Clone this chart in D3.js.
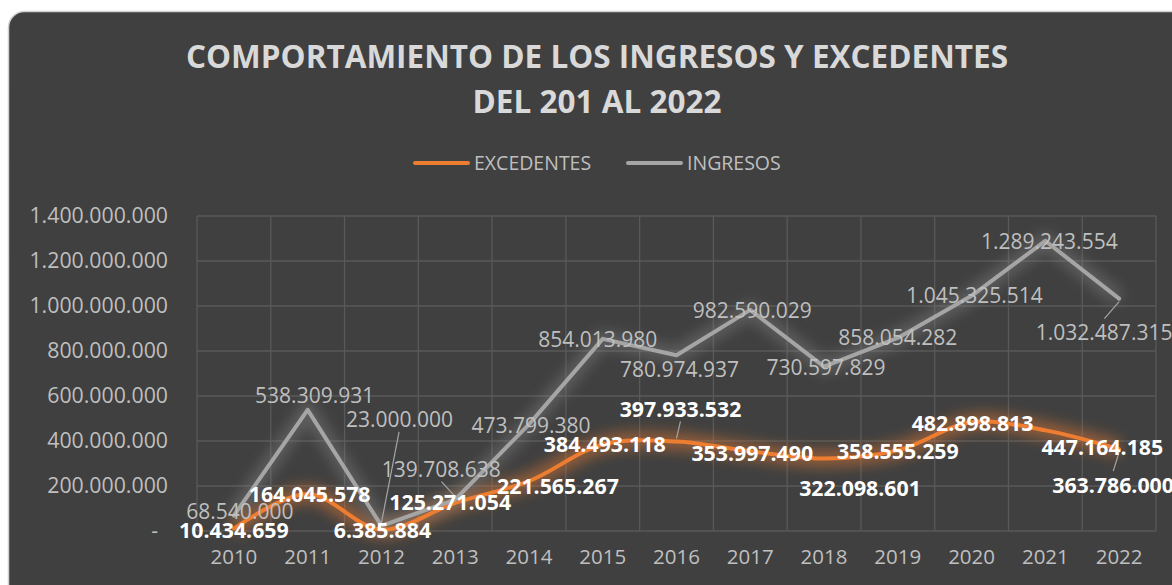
<!DOCTYPE html>
<html>
<head>
<meta charset="utf-8">
<script src="https://cdn.jsdelivr.net/npm/d3@7"></script>
<style>
  body { margin: 0; background: #ffffff; }
  svg { display: block; }
</style>
</head>
<body>
<div id="chart"></div>
<script>
// datos
var years = ["2010","2011","2012","2013","2014","2015","2016","2017","2018","2019","2020","2021","2022"];
var excedentes = [10434659, 164045578, 6385884, 125271054, 221565267, 384493118, 397933532, 353997490, 322098601, 358555259, 482898813, 447164185, 363786000];
var ingresos = [68540000, 538309931, 23000000, 139708638, 473799380, 854013980, 780974937, 982590029, 730597829, 858054282, 1045325514, 1289243554, 1032487315];
var yTicks = [0, 200000000, 400000000, 600000000, 800000000, 1000000000, 1200000000, 1400000000];

// desplazamiento de las etiquetas (px) respecto al punto
var offIng = [[6,-4],[7,-14],[18,-106],[-14,-30],[2,1],[-5,1],[3,14],[2,1],[2,1],[0,0],[3,0],[4,1],[-15,34]];
var offExc = [[0,2],[2,0],[1,1],[-5,0],[29,5],[2,0],[4,-32],[2,2],[36,30],[0,1],[1,1],[57,17],[-6,36]];

var W = 1172, H = 585;
var fmt = function(v) { return d3.format(",")(v).replace(/,/g, "."); };

var svg = d3.select("#chart").append("svg").attr("width", W).attr("height", H);

var defs = svg.append("defs");
var f = defs.append("filter").attr("id", "glow").attr("x", "-20%").attr("y", "-50%").attr("width", "140%").attr("height", "200%");
f.append("feGaussianBlur").attr("stdDeviation", 7);

svg.append("rect")
	.attr("x", 8.5).attr("y", 11.5)
	.attr("width", 1200).attr("height", 620)
	.attr("rx", 16)
	.attr("fill", "#404040")
	.attr("stroke", "#d0d0d0")
	.attr("stroke-width", 1.5);

var titles = ["COMPORTAMIENTO DE LOS INGRESOS Y EXCEDENTES", "DEL 201 AL 2022"];
titles.forEach(function(t, i) {
	svg.append("text")
		.attr("x", 597).attr("y", 68 + i * 45)
		.attr("text-anchor", "middle")
		.attr("font-family", "Open Sans")
		.attr("font-weight", "bold")
		.attr("font-size", 31.5)
		.attr("fill", "#d9d9d9")
		.text(t);
});

// leyenda
var legend = [
	{name: "EXCEDENTES", color: "#ED7D31", x: 415},
	{name: "INGRESOS", color: "#A5A5A5", x: 628}
];
legend.forEach(function(l) {
	svg.append("line")
		.attr("x1", l.x).attr("x2", l.x + 53)
		.attr("y1", 163).attr("y2", 163)
		.attr("stroke", l.color).attr("stroke-width", 4).attr("stroke-linecap", "round");
	svg.append("text")
		.attr("x", l.x + 59).attr("y", 170)
		.attr("font-family", "Open Sans")
		.attr("font-size", 19.5)
		.attr("fill", "#bfbfbf")
		.text(l.name);
});

var x = d3.scaleBand().domain(years).range([197, 1156]);
var y = d3.scaleLinear().domain([0, 1400000000]).range([531, 216]);
var cx = function(i) { return x(years[i]) + x.bandwidth() / 2; };

// rejilla
var g = svg.append("g");
g.selectAll(".hgrid").data(yTicks).enter().append("line")
	.attr("x1", 197).attr("x2", 1156)
	.attr("y1", function(d) { return y(d); })
	.attr("y2", function(d) { return y(d); })
	.attr("stroke", "#595959").attr("stroke-width", 1.3);
g.selectAll(".vgrid").data(years.concat(["end"])).enter().append("line")
	.attr("x1", function(d, i) { return 197 + i * x.bandwidth(); })
	.attr("x2", function(d, i) { return 197 + i * x.bandwidth(); })
	.attr("y1", 216).attr("y2", 531)
	.attr("stroke", "#595959").attr("stroke-width", 1.3);

// ejes
var yAxis = svg.append("g").attr("transform", "translate(172,0)")
	.call(d3.axisLeft(y).tickValues(yTicks).tickSize(0).tickPadding(4)
		.tickFormat(function(d) { return d === 0 ? "-" : fmt(d); }));
yAxis.select(".domain").remove();
yAxis.selectAll("text").attr("font-family", "Open Sans").attr("font-size", 21.3).attr("fill", "#bfbfbf")
	.attr("dx", function(d) { return d === 0 ? -10 : 0; });

var xAxis = svg.append("g").attr("transform", "translate(0,545)")
	.call(d3.axisBottom(x).tickSize(0).tickPadding(4));
xAxis.select(".domain").remove();
xAxis.selectAll("text").attr("font-family", "Open Sans").attr("font-size", 20.5).attr("fill", "#bfbfbf");

// lineas
var lineIng = d3.line().x(function(d, i) { return cx(i); }).y(function(d) { return y(d); });
var lineExc = d3.line().x(function(d, i) { return cx(i); }).y(function(d) { return y(d); }).curve(d3.curveCatmullRom);

svg.append("path").attr("d", lineExc(excedentes)).attr("fill", "none")
	.attr("stroke", "#ED7D31").attr("stroke-opacity", 0.5).attr("stroke-width", 16).attr("filter", "url(#glow)");
svg.append("path").attr("d", lineIng(ingresos)).attr("fill", "none")
	.attr("stroke", "#8a8a8a").attr("stroke-opacity", 0.45).attr("stroke-width", 14).attr("filter", "url(#glow)");

svg.append("path").attr("d", lineExc(excedentes)).attr("fill", "none")
	.attr("stroke", "#ED7D31").attr("stroke-width", 4).attr("stroke-linejoin", "round").attr("stroke-linecap", "round");
svg.append("path").attr("d", lineIng(ingresos)).attr("fill", "none")
	.attr("stroke", "#A5A5A5").attr("stroke-width", 4).attr("stroke-linejoin", "round").attr("stroke-linecap", "round");

// lineas guia de etiquetas
var leaders = [
	{i: 2, s: ingresos, off: offIng, color: "#a5a5a5"},
	{i: 3, s: ingresos, off: offIng, color: "#a5a5a5"},
	{i: 12, s: ingresos, off: offIng, color: "#a5a5a5"},
	{i: 6, s: excedentes, off: offExc, color: "#a5a5a5"},
	{i: 12, s: excedentes, off: offExc, color: "#a5a5a5"}
];
leaders.forEach(function(l) {
	var px = cx(l.i), py = y(l.s[l.i]);
	var tx = px + l.off[l.i][0], ty = py + l.off[l.i][1];
	var ey = ty > py ? ty - 14 : ty + 12;
	var ex = tx + (px - tx) * 0.02;
	svg.append("line")
		.attr("x1", px).attr("y1", py - (ty > py ? -3 : 3))
		.attr("x2", ex).attr("y2", ey)
		.attr("stroke", l.color).attr("stroke-width", 1.2);
});

// etiquetas
svg.selectAll(".lblIng").data(ingresos).enter().append("text")
	.attr("x", function(d, i) { return cx(i) + offIng[i][0]; })
	.attr("y", function(d, i) { return y(d) + offIng[i][1]; })
	.attr("dy", "0.35em")
	.attr("text-anchor", "middle")
	.attr("font-family", "Open Sans")
	.attr("font-size", 21)
	.attr("fill", "#bfbfbf")
	.text(function(d) { return fmt(d); });

svg.selectAll(".lblExc").data(excedentes).enter().append("text")
	.attr("x", function(d, i) { return cx(i) + offExc[i][0]; })
	.attr("y", function(d, i) { return y(d) + offExc[i][1]; })
	.attr("dy", "0.35em")
	.attr("text-anchor", "middle")
	.attr("font-family", "Open Sans")
	.attr("font-weight", "bold")
	.attr("font-size", 21.3)
	.attr("fill", "#ffffff")
	.text(function(d) { return fmt(d); });
</script>
</body>
</html>
